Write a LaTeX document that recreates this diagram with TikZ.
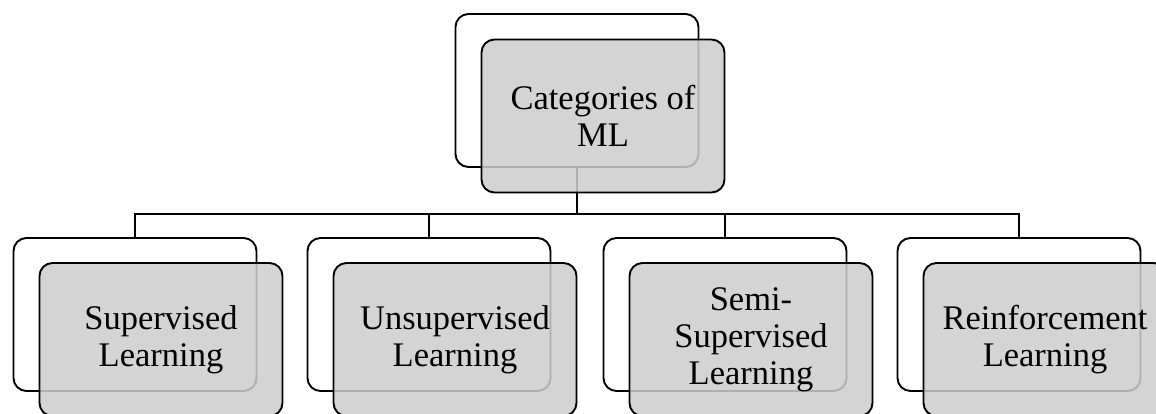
\documentclass[tikz,border=0pt]{standalone}
\usepackage{fontspec}
\setmainfont{Liberation Serif}
\definecolor{boxgray}{RGB}{205,205,205}
\tikzset{
  backbox/.style={draw=black, line width=1.9pt, rounded corners=13pt,
    minimum width=243pt, minimum height=153pt, inner sep=0pt},
  frontbox/.style={draw=black, line width=1.9pt, rounded corners=13pt,
    fill=boxgray, fill opacity=0.855, text opacity=1, draw opacity=1,
    minimum width=243pt, minimum height=153pt, inner sep=0pt,
    align=center, font=\fontsize{34.5}{37}\selectfont},
  link/.style={draw=black, line width=1.9pt}
}
\begin{document}
\begin{tikzpicture}[x=1pt,y=-1pt]
  \useasboundingbox (0,0) rectangle (1156,414);
  \clip (0,0) rectangle (1156,414);

  % back frames
  \node[backbox] (topB) at (577,90.5) {};
  \node[backbox] (supB) at (135,314.5) {};
  \node[backbox] (unsB) at (429,314.5) {};
  \node[backbox] (semB) at (725,314.5) {};
  \node[backbox] (reiB) at (1019,314.5) {};

  % tree connectors
  \coordinate (hub) at (577,214);
  \draw[link] (topB.south) -- (hub);
  \foreach \b in {supB,unsB,semB,reiB}
    \draw[link] (hub) -| (\b.north);

  % shaded front boxes with labels
  \node[frontbox] (top) at (603,116) {Categories of\\ML};
  \node[frontbox] (sup) at (161,339.5) {Supervised\\Learning};
  \node[frontbox] (uns) at (455,339.5) {Unsupervised\\Learning};
  \node[frontbox] (sem) at (751,339.5) {Semi-\\Supervised\\Learning};
  \node[frontbox] (rei) at (1045,339.5) {Reinforcement\\Learning};
\end{tikzpicture}
\end{document}
